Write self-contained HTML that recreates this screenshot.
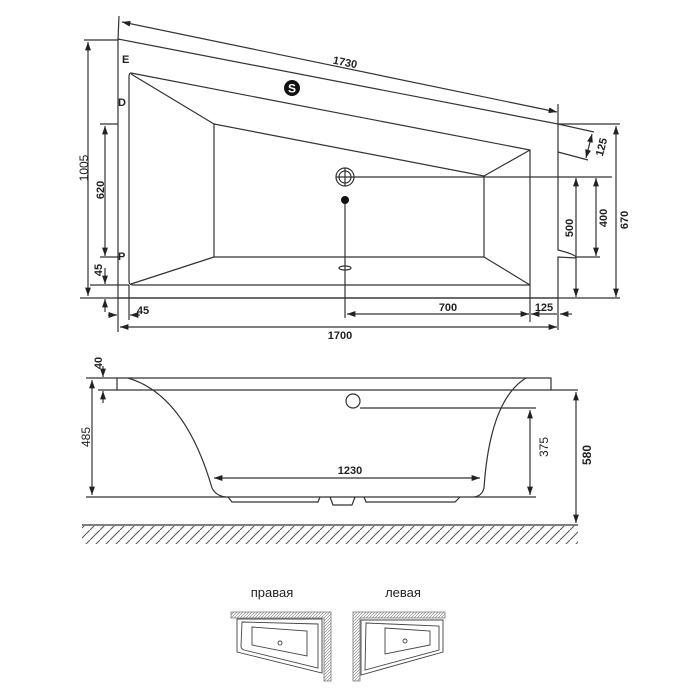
<!DOCTYPE html>
<html><head><meta charset="utf-8"><style>
html,body{margin:0;padding:0;background:#fff;width:700px;height:700px;overflow:hidden}
svg{display:block}
text{font-family:"Liberation Sans",Arial,sans-serif;fill:#222}
</style></head><body>
<svg width="700" height="700" viewBox="0 0 700 700" xmlns="http://www.w3.org/2000/svg">
<defs>
<marker id="a" viewBox="0 0 10 10" refX="10" refY="5" markerWidth="7" markerHeight="7" orient="auto-start-reverse"><path d="M0,1.5 L10,5 L0,8.5 z" fill="#222"/></marker>
<pattern id="h" width="10" height="10" patternUnits="userSpaceOnUse"><path d="M0,10 L10,0" stroke="#555" stroke-width="1"/></pattern>
<pattern id="hs" width="3" height="3" patternUnits="userSpaceOnUse"><path d="M0,3 L3,0" stroke="#888" stroke-width="0.7"/></pattern>
</defs>
<g stroke="#333" stroke-width="1.2" fill="none">
<path d="M118,39 L558,124 L558,250 Q574,254 576,257 L576,258 L558,257 L558,298 L118,298 Z"/>
<line x1="80" y1="298" x2="620" y2="298"/>
<path d="M131,73 L530,150 L530,285 L133,285 Q129,285 129,281 L129,77 Q129,73 131,73 Z"/>
<path d="M214,124 L484,176 L484,257 L214,257 Z"/>
<line x1="131" y1="74" x2="214" y2="124"/>
<line x1="530" y1="150" x2="484" y2="176"/>
<line x1="530" y1="285" x2="484" y2="257"/>
<line x1="131" y1="284" x2="214" y2="257"/>
<line x1="119" y1="16" x2="118" y2="40"/>
<line x1="558" y1="104" x2="558" y2="124"/>
<line x1="122" y1="22" x2="557" y2="112" marker-start="url(#a)" marker-end="url(#a)"/>
<circle cx="345" cy="177" r="9"/><circle cx="345" cy="177" r="6"/>
<line x1="336" y1="177" x2="354" y2="177"/><line x1="345" y1="168" x2="345" y2="186"/>
<line x1="354" y1="177" x2="612" y2="177"/>
<line x1="345" y1="200" x2="345" y2="318"/>
<ellipse cx="345" cy="268" rx="6" ry="2"/>
<line x1="576" y1="178" x2="576" y2="297" marker-start="url(#a)" marker-end="url(#a)"/>
<line x1="596" y1="178" x2="596" y2="256" marker-start="url(#a)" marker-end="url(#a)"/>
<line x1="576" y1="257" x2="600" y2="257"/>
<line x1="616" y1="126" x2="616" y2="297" marker-start="url(#a)" marker-end="url(#a)"/>
<line x1="558" y1="124" x2="620" y2="124"/>
<line x1="558" y1="124" x2="594" y2="132"/>
<line x1="558" y1="152" x2="588" y2="160"/>
<line x1="592" y1="134" x2="586" y2="158" marker-start="url(#a)" marker-end="url(#a)"/>
<line x1="530" y1="285" x2="530" y2="322"/>
<line x1="558" y1="298" x2="558" y2="330"/>
<line x1="347" y1="314" x2="529" y2="314" marker-start="url(#a)" marker-end="url(#a)"/>
<line x1="531" y1="314" x2="557" y2="314" marker-start="url(#a)"/>
<line x1="560" y1="314" x2="572" y2="314" marker-start="url(#a)"/>
<line x1="120" y1="327" x2="557" y2="327" marker-start="url(#a)" marker-end="url(#a)"/>
<line x1="118" y1="298" x2="118" y2="332"/>
<line x1="129" y1="285" x2="129" y2="320"/>
<line x1="108" y1="315" x2="117" y2="315" marker-end="url(#a)"/>
<line x1="140" y1="315" x2="130" y2="315" marker-end="url(#a)"/>
<line x1="84" y1="40" x2="118" y2="40"/>
<line x1="88" y1="42" x2="88" y2="296" marker-start="url(#a)" marker-end="url(#a)"/>
<line x1="100" y1="124" x2="118" y2="124"/>
<line x1="100" y1="257" x2="120" y2="257"/>
<line x1="90" y1="285" x2="129" y2="285"/>
<line x1="105" y1="126" x2="105" y2="256" marker-start="url(#a)" marker-end="url(#a)"/>
<line x1="105" y1="268" x2="105" y2="284" marker-end="url(#a)"/>
<line x1="105" y1="312" x2="105" y2="299" marker-end="url(#a)"/>

<path d="M117,378 L551,378 L551,390 L117,390 Z"/>
<line x1="86" y1="378" x2="117" y2="378"/>
<line x1="551" y1="390" x2="578" y2="390"/>
<path d="M128,378 Q185,395 212,488 Q216,496 226,497 L474,497 Q482,496 484,488 Q490,400 526,378"/>
<path d="M228,497 L232,502 L318,502 L320,497"/>
<path d="M330,497 L333,505 L352,505 L355,497"/>
<path d="M364,497 L366,502 L455,502 L460,497"/>
<line x1="86" y1="497" x2="226" y2="497"/>
<line x1="474" y1="497" x2="536" y2="497"/>
<circle cx="353" cy="401" r="7"/>
<line x1="360" y1="408" x2="536" y2="408"/>
<line x1="92" y1="380" x2="92" y2="495" marker-start="url(#a)" marker-end="url(#a)"/>
<line x1="103" y1="366" x2="103" y2="377" marker-end="url(#a)"/>
<line x1="103" y1="403" x2="103" y2="391" marker-end="url(#a)"/>
<line x1="98" y1="390" x2="117" y2="390"/>
<line x1="530" y1="410" x2="530" y2="495" marker-start="url(#a)" marker-end="url(#a)"/>
<line x1="576" y1="392" x2="576" y2="523" marker-start="url(#a)" marker-end="url(#a)"/>
<line x1="214" y1="478" x2="480" y2="478" marker-start="url(#a)" marker-end="url(#a)"/>
<line x1="82" y1="525" x2="578" y2="525"/>
</g>
<rect x="82" y="526" width="496" height="18" fill="url(#h)"/>
<circle cx="345" cy="200" r="4" fill="#111"/>
<circle cx="292" cy="88" r="8" fill="#111"/>
<text x="292" y="92.5" font-size="12" font-weight="bold" text-anchor="middle" style="fill:#fff">S</text>

<g font-size="11" font-weight="bold">
<text x="345" y="66" text-anchor="middle" transform="rotate(11.3 345 63)">1730</text>
<text x="122" y="63">E</text>
<text x="118" y="106">D</text>
<text x="118" y="260">P</text>
<text x="448" y="311" text-anchor="middle">700</text>
<text x="544" y="311" text-anchor="middle">125</text>
<text x="340" y="339" text-anchor="middle">1700</text>
<text x="143" y="314" text-anchor="middle">45</text>
<text transform="translate(104,190) rotate(-90)" text-anchor="middle">620</text>
<text transform="translate(102,270) rotate(-90)" text-anchor="middle">45</text>
<text transform="translate(573,228) rotate(-90)" text-anchor="middle">500</text>
<text transform="translate(607,218) rotate(-90)" text-anchor="middle">400</text>
<text transform="translate(628,220) rotate(-90)" text-anchor="middle">670</text>
<text transform="translate(605,148) rotate(-75)" text-anchor="middle">125</text>
<text transform="translate(102,363) rotate(-90)" text-anchor="middle">40</text>
<text x="350" y="474" text-anchor="middle">1230</text>
<text transform="translate(591,455) rotate(-90)" text-anchor="middle" font-size="12">580</text>
</g>
<g font-size="12">
<text transform="translate(88,168) rotate(-90)" text-anchor="middle">1005</text>
<text transform="translate(90,437) rotate(-90)" text-anchor="middle">485</text>
<text transform="translate(548,447) rotate(-90)" text-anchor="middle">375</text>
</g>
<g font-size="13">
<text x="272" y="597" text-anchor="middle">правая</text>
<text x="403" y="597" text-anchor="middle">левая</text>
</g>
<g stroke="#777" stroke-width="0.8">
<path d="M231,612 L331,612 L331,681 L324,681 L324,618 L231,618 Z" fill="url(#hs)"/>
<path d="M353,612 L445,612 L445,618 L360,618 L360,681 L353,681 Z" fill="url(#hs)"/>
</g>
<g stroke="#444" stroke-width="0.9" fill="none">
<path d="M237,619 L322,619 L322,673 L237,652 Z"/>
<path d="M242,622 L318,624 L318,668 L244,650 Q241,649 241,646 Z"/>
<path d="M252,627 L307,631 L307,656 L252,645 Z"/>
<path d="M361,620 L443,620 L443,652 L361,675 Z"/>
<path d="M366,623 L439,626 L439,650 L365,670 Z"/>
<path d="M385,628 L430,631 L430,645 L385,654 Z"/>
<circle cx="280" cy="643" r="2"/><circle cx="405" cy="641" r="2"/>
</g>
</svg>
</body></html>
